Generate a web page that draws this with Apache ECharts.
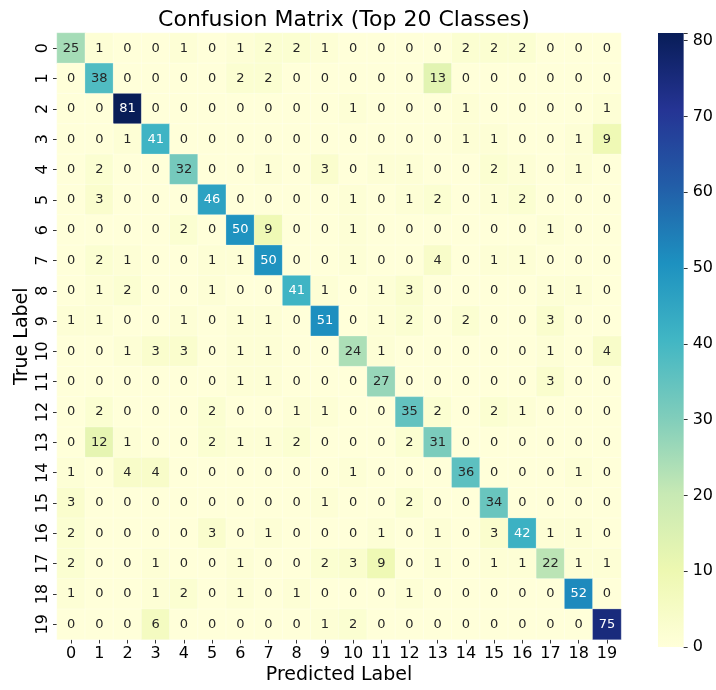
<!DOCTYPE html>
<html><head><meta charset="utf-8">
<script src="https://cdn.jsdelivr.net/npm/echarts@6/dist/echarts.min.js"></script>
<style>html,body{margin:0;padding:0;background:#fff}#c{width:716px;height:690px}</style>
</head><body><div id="c"></div>
<script>
const classes = ['0','1','2','3','4','5','6','7','8','9','10','11','12','13','14','15','16','17','18','19'];
const matrix = [
[25,1,0,0,1,0,1,2,2,1,0,0,0,0,2,2,2,0,0,0],
[0,38,0,0,0,0,2,2,0,0,0,0,0,13,0,0,0,0,0,0],
[0,0,81,0,0,0,0,0,0,0,1,0,0,0,1,0,0,0,0,1],
[0,0,1,41,0,0,0,0,0,0,0,0,0,0,1,1,0,0,1,9],
[0,2,0,0,32,0,0,1,0,3,0,1,1,0,0,2,1,0,1,0],
[0,3,0,0,0,46,0,0,0,0,1,0,1,2,0,1,2,0,0,0],
[0,0,0,0,2,0,50,9,0,0,1,0,0,0,0,0,0,1,0,0],
[0,2,1,0,0,1,1,50,0,0,1,0,0,4,0,1,1,0,0,0],
[0,1,2,0,0,1,0,0,41,1,0,1,3,0,0,0,0,1,1,0],
[1,1,0,0,1,0,1,1,0,51,0,1,2,0,2,0,0,3,0,0],
[0,0,1,3,3,0,1,1,0,0,24,1,0,0,0,0,0,1,0,4],
[0,0,0,0,0,0,1,1,0,0,0,27,0,0,0,0,0,3,0,0],
[0,2,0,0,0,2,0,0,1,1,0,0,35,2,0,2,1,0,0,0],
[0,12,1,0,0,2,1,1,2,0,0,0,2,31,0,0,0,0,0,0],
[1,0,4,4,0,0,0,0,0,0,1,0,0,0,36,0,0,0,1,0],
[3,0,0,0,0,0,0,0,0,1,0,0,2,0,0,34,0,0,0,0],
[2,0,0,0,0,3,0,1,0,0,0,1,0,1,0,3,42,1,1,0],
[2,0,0,1,0,0,1,0,0,2,3,9,0,1,0,1,1,22,1,1],
[1,0,0,1,2,0,1,0,1,0,0,0,1,0,0,0,0,0,52,0],
[0,0,0,6,0,0,0,0,0,1,2,0,0,0,0,0,0,0,0,75]
];
const colorbarTicks = [0,10,20,30,40,50,60,70,80];

const ylgnbu = ['#ffffd9','#edf8b1','#c7e9b4','#7fcdbb','#41b6c4','#1d91c0','#225ea8','#253494','#081d58'];
const vmax = Math.max(...matrix.flat());
const FONT = 'DejaVu Sans';

const data = [];
matrix.forEach((row, i) => row.forEach((v, j) => {
  data.push({value: [j, i, v], label: {color: v >= 40 ? '#ffffff' : '#262626'}});
}));

const chart = echarts.init(document.getElementById('c'), null, {renderer: 'canvas'});
chart.setOption({
  animation: false,
  backgroundColor: '#fff',
  textStyle: {fontFamily: FONT},
  title: {
    text: 'Confusion Matrix (Top 20 Classes)',
    left: 339, top: 4, textAlign: 'center',
    textStyle: {fontFamily: FONT, fontSize: 22, fontWeight: 'normal', color: '#000'}
  },
  grid: [
    {left: 57, top: 33, width: 564, height: 614},
    {left: 658, top: 33, width: 30, height: 614}
  ],
  xAxis: [
    {
      type: 'category', data: classes, gridIndex: 0,
      name: 'Predicted Label', nameLocation: 'middle', nameGap: 36, nameMoveOverlap: false,
      nameTextStyle: {fontFamily: FONT, fontSize: 19, color: '#000', verticalAlign: 'middle'},
      axisLine: {show: false},
      axisTick: {show: true, alignWithLabel: true, length: 4, lineStyle: {color: '#333'}},
      axisLabel: {fontFamily: FONT, fontSize: 16, color: '#000', margin: 6},
      splitLine: {show: false}
    },
    {type: 'category', data: ['cb'], gridIndex: 1, show: false}
  ],
  yAxis: [
    {
      type: 'category', data: classes, gridIndex: 0, inverse: true,
      name: 'True Label', nameLocation: 'middle', nameGap: 35, nameRotate: 90, nameMoveOverlap: false,
      nameTextStyle: {fontFamily: FONT, fontSize: 19, color: '#000', verticalAlign: 'middle'},
      axisLine: {show: false},
      axisTick: {show: true, alignWithLabel: true, length: 4, lineStyle: {color: '#333'}},
      axisLabel: {fontFamily: FONT, fontSize: 16, color: '#000', rotate: 90, margin: 6},
      splitLine: {show: false}
    },
    {
      type: 'value', gridIndex: 1, position: 'right', min: 0, max: vmax, interval: 10,
      axisLine: {show: false},
      axisTick: {show: true, length: 4, lineStyle: {color: '#333'}},
      axisLabel: {fontFamily: FONT, fontSize: 16, color: '#000', margin: 9,
        formatter: v => colorbarTicks.includes(v) ? String(v) : ''},
      splitLine: {show: false}
    }
  ],
  visualMap: {
    show: false, min: 0, max: vmax, dimension: 2, seriesIndex: 0,
    inRange: {color: ylgnbu}
  },
  series: [
    {
      type: 'heatmap', xAxisIndex: 0, yAxisIndex: 0, data: data,
      label: {show: true, fontFamily: FONT, fontSize: 13, formatter: p => p.value[2]},
      itemStyle: {borderColor: 'rgba(255,255,255,0.5)', borderWidth: 0.5},
      emphasis: {disabled: true}
    },
    {
      type: 'bar', xAxisIndex: 1, yAxisIndex: 1, data: [vmax], barWidth: '100%',
      itemStyle: {
        color: {type: 'linear', x: 0, y: 1, x2: 0, y2: 0,
          colorStops: ylgnbu.map((c, k) => ({offset: k / (ylgnbu.length - 1), color: c}))}
      },
      silent: true
    }
  ]
});
</script></body></html>
